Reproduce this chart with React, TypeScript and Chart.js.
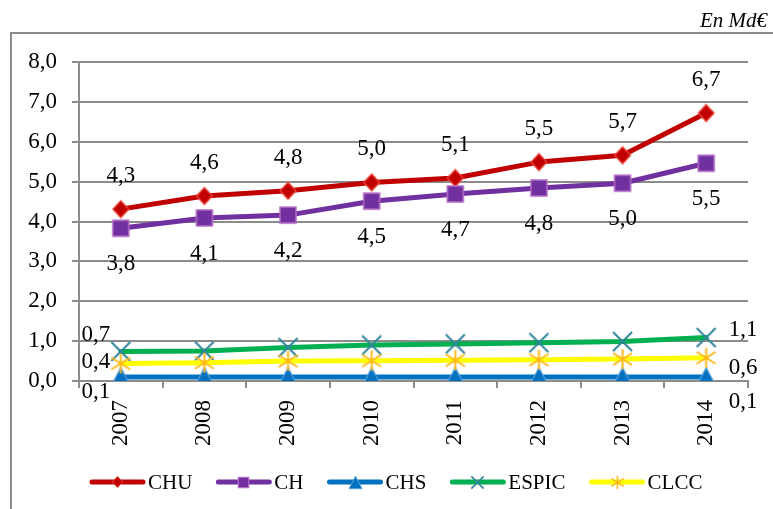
import React, { useEffect, useRef } from 'react';
import { Chart, registerables } from 'chart.js';

Chart.register(...registerables);

// ---------- data ----------
const categories = ['2007', '2008', '2009', '2010', '2011', '2012', '2013', '2014'];
const seriesNames = ['CHU', 'CH', 'CHS', 'ESPIC', 'CLCC'];
const chuValues = [4.31, 4.64, 4.77, 4.98, 5.09, 5.49, 5.66, 6.72];
const chValues = [3.83, 4.09, 4.16, 4.51, 4.69, 4.84, 4.96, 5.46];
const chsValues = [0.1, 0.1, 0.1, 0.1, 0.1, 0.1, 0.1, 0.1];
const espicValues = [0.74, 0.75, 0.84, 0.9, 0.93, 0.96, 0.99, 1.09];
const clccValues = [0.44, 0.46, 0.5, 0.51, 0.52, 0.53, 0.55, 0.58];
const yTicks = [0, 1, 2, 3, 4, 5, 6, 7, 8];
const unitLabel = 'En Md€';

// ---------- styles ----------
const FONT = '"Liberation Serif", "Times New Roman", serif';
const GRID = '#8C8C8C';
const lineColors = ['#C00000', '#7030A0', '#0070C0', '#00B050', '#FFFF00'];
const markerDefs = [
  { kind: 'diamond', w: 16, h: 17, fill: '#C00000', stroke: '#F0483C', lw: 1.2 },
  { kind: 'square', w: 16, h: 16, fill: '#7030A0', stroke: '#B46CC4', lw: 1.5 },
  { kind: 'triangle', w: 20, h: 19, fill: '#0070C0', stroke: '#5AA3DC', lw: 1.2 },
  { kind: 'cross', w: 19, h: 19, fill: 'transparent', stroke: '#31859C', lw: 2 },
  { kind: 'asterisk', w: 19, h: 20, fill: 'transparent', stroke: '#FFB81C', lw: 2 },
];
const legendMarkerScale = 0.65;
const labelOffsets: { all?: number[]; first?: number[]; last?: number[] }[] = [
  { all: [0, -33] },
  { all: [0, 36] },
  { first: [-25, 15], last: [37, 25] },
  { first: [-25, -17], last: [37, -8] },
  { first: [-25, -2], last: [37, 10] },
];

const fmt = (v: number) => v.toFixed(1).replace('.', ',');

function makeMarker(kind: string, w: number, h: number, fill: string, stroke: string, lw: number) {
  const c = document.createElement('canvas');
  const pad = 2;
  c.width = Math.ceil(w + pad * 2);
  c.height = Math.ceil(h + pad * 2);
  const ctx = c.getContext('2d')!;
  const cx = c.width / 2;
  const cy = c.height / 2;
  ctx.lineWidth = lw;
  ctx.fillStyle = fill;
  ctx.strokeStyle = stroke;
  ctx.lineJoin = 'miter';
  ctx.beginPath();
  if (kind === 'diamond') {
    ctx.moveTo(cx, cy - h / 2);
    ctx.lineTo(cx + w / 2, cy);
    ctx.lineTo(cx, cy + h / 2);
    ctx.lineTo(cx - w / 2, cy);
    ctx.closePath();
    ctx.fill();
    ctx.stroke();
  } else if (kind === 'square') {
    ctx.rect(cx - w / 2, cy - h / 2, w, h);
    ctx.fill();
    ctx.stroke();
  } else if (kind === 'triangle') {
    ctx.moveTo(cx, cy - h / 2);
    ctx.lineTo(cx + w / 2, cy + h / 2);
    ctx.lineTo(cx - w / 2, cy + h / 2);
    ctx.closePath();
    ctx.fill();
    ctx.stroke();
  } else if (kind === 'cross' || kind === 'asterisk') {
    const inset = kind === 'asterisk' ? h * 0.2 : 0;
    ctx.moveTo(cx - w / 2, cy - h / 2 + inset);
    ctx.lineTo(cx + w / 2, cy + h / 2 - inset);
    ctx.moveTo(cx + w / 2, cy - h / 2 + inset);
    ctx.lineTo(cx - w / 2, cy + h / 2 - inset);
    if (kind === 'asterisk') {
      ctx.moveTo(cx, cy - h / 2);
      ctx.lineTo(cx, cy + h / 2);
    }
    ctx.stroke();
  }
  return c;
}

export default function App() {
  const ref = useRef<HTMLCanvasElement | null>(null);

  useEffect(() => {
    if (!ref.current) return;
    const bigMarkers = markerDefs.map((m) => makeMarker(m.kind, m.w, m.h, m.fill, m.stroke, m.lw));
    const smallMarkers = markerDefs.map((m) =>
      makeMarker(m.kind, m.w * legendMarkerScale, m.h * legendMarkerScale, m.fill, m.stroke, Math.max(1, m.lw * 0.8))
    );
    const allValues = [chuValues, chValues, chsValues, espicValues, clccValues];

    const framePlugin = {
      id: 'frame',
      beforeDraw(chart: any) {
        const ctx = chart.ctx;
        ctx.save();
        ctx.strokeStyle = GRID;
        ctx.lineWidth = 2;
        ctx.beginPath();
        ctx.moveTo(11, 509);
        ctx.lineTo(11, 33);
        ctx.lineTo(773, 33);
        ctx.stroke();
        ctx.fillStyle = '#000';
        ctx.font = `italic 21px ${FONT}`;
        ctx.textAlign = 'right';
        ctx.textBaseline = 'alphabetic';
        ctx.fillText(unitLabel, 767, 27);
        ctx.restore();
      },
    };

    const labelPlugin = {
      id: 'dataLabels',
      afterDatasetsDraw(chart: any) {
        const ctx = chart.ctx;
        ctx.save();
        ctx.fillStyle = '#000';
        ctx.font = `23px ${FONT}`;
        ctx.textAlign = 'center';
        ctx.textBaseline = 'middle';
        chart.data.datasets.forEach((ds: any, di: number) => {
          const meta = chart.getDatasetMeta(di);
          const conf = labelOffsets[di];
          meta.data.forEach((pt: any, i: number) => {
            let off: number[] | undefined = conf.all;
            if (!off && i === 0) off = conf.first;
            if (!off && i === meta.data.length - 1) off = conf.last;
            if (!off) return;
            ctx.fillText(fmt(ds.data[i]), pt.x + off[0], pt.y + off[1]);
          });
        });
        ctx.restore();
      },
    };

    const legendPlugin = {
      id: 'customLegend',
      afterDraw(chart: any) {
        const ctx = chart.ctx;
        ctx.save();
        ctx.font = `21px ${FONT}`;
        ctx.textBaseline = 'middle';
        ctx.textAlign = 'left';
        const y = 482;
        let x = 90;
        const lineLen = 55;
        seriesNames.forEach((name, i) => {
          ctx.strokeStyle = lineColors[i];
          ctx.lineWidth = 5;
          ctx.lineCap = 'round';
          ctx.beginPath();
          ctx.moveTo(x + 2, y);
          ctx.lineTo(x + lineLen - 2, y);
          ctx.stroke();
          const mk = smallMarkers[i];
          ctx.drawImage(mk, Math.round(x + lineLen / 2 - mk.width / 2), Math.round(y - mk.height / 2));
          ctx.fillStyle = '#000';
          ctx.fillText(name, x + lineLen + 3, y + 1);
          x += lineLen + 3 + ctx.measureText(name).width + 24;
        });
        ctx.restore();
      },
    };

    const chart = new Chart(ref.current, {
      type: 'line',
      data: {
        labels: categories,
        datasets: allValues.map((vals, i) => ({
          label: seriesNames[i],
          data: vals,
          borderColor: lineColors[i],
          backgroundColor: lineColors[i],
          borderWidth: 5,
          borderJoinStyle: 'round',
          borderCapStyle: 'round',
          pointStyle: bigMarkers[i],
          pointRadius: 10,
          fill: false,
          tension: 0,
          order: seriesNames.length - 1 - i,
        })),
      },
      options: {
        responsive: false,
        animation: false,
        layout: { padding: { top: 62, right: 25, bottom: 58, left: 0 } },
        plugins: { legend: { display: false }, tooltip: { enabled: false } },
        scales: {
          x: {
            offset: true,
            grid: { drawOnChartArea: false, offset: true, tickLength: 7, color: GRID, lineWidth: 2 },
            border: { color: GRID, width: 2 },
            ticks: {
              minRotation: 90,
              maxRotation: 90,
              autoSkip: false,
              padding: 12,
              color: '#000',
              font: { family: FONT, size: 23 },
            },
            afterFit: (s: any) => {
              s.height = 70;
            },
          },
          y: {
            min: 0,
            max: 8,
            afterBuildTicks: (s: any) => {
              s.ticks = yTicks.map((v) => ({ value: v }));
            },
            grid: { color: GRID, lineWidth: 2, tickLength: 7 },
            border: { color: GRID, width: 2 },
            ticks: {
              padding: 15,
              color: '#000',
              font: { family: FONT, size: 23 },
              callback: (v: any) => fmt(Number(v)),
            },
            afterFit: (s: any) => {
              s.width = 79;
            },
          },
        },
      } as any,
      plugins: [framePlugin, labelPlugin, legendPlugin],
    });
    return () => chart.destroy();
  }, []);

  return (
    <div style={{ position: 'fixed', left: 0, top: 0, width: 773, height: 509, background: '#fff' }}>
      <canvas ref={ref} width={773} height={509} style={{ display: 'block', width: 773, height: 509 }} />
    </div>
  );
}
